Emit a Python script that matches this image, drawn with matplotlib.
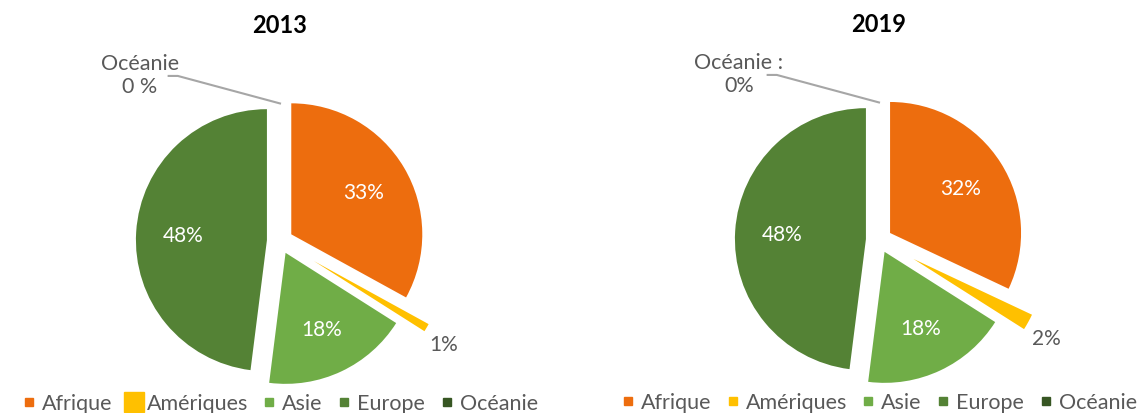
import matplotlib.pyplot as plt
import numpy as np
from matplotlib.lines import Line2D

plt.rcParams['font.family'] = ['Lato', 'DejaVu Sans']

# --- donnees ---
regions = ["Afrique", "Amériques", "Asie", "Europe", "Océanie"]
parts_2013 = [33, 1, 18, 48, 0]
parts_2019 = [32, 2, 18, 48, 0]
annees = ["2013", "2019"]
oceanie_labels = ["Océanie\n0 %", "Océanie :\n0%"]

colors = ["#ED6D0E", "#FFC000", "#70AD47", "#548235", "#375623"]
grey = "#595959"

fig = plt.figure(figsize=(11.45, 4.14), dpi=100)

W, H = 1145, 414
R = 131  # rayon en pixels
xlim = (-2.1, 2.1)
ylim = (-1.3, 1.7)


def make_ax(cx, cy):
    left = (cx + xlim[0] * R) / W
    bottom = (H - (cy - ylim[0] * R)) / H
    width = (xlim[1] - xlim[0]) * R / W
    height = (ylim[1] - ylim[0]) * R / H
    return fig.add_axes([left, bottom, width, height])


centers = [(280, 242), (879, 241)]
legend_sizes = [[6, 14, 6, 6, 6], [6, 6, 6, 6, 6]]

for i, vals in enumerate([parts_2013, parts_2019]):
    ax = make_ax(*centers[i])
    explode = [0.1, 0.3, 0.1, 0.1, 0.1]
    wedges, texts, autotexts = ax.pie(
        vals, colors=colors, startangle=90, counterclock=False,
        explode=explode, radius=1, pctdistance=0.64,
        autopct=lambda p: f"{p:.0f}%",
        textprops=dict(color="white", fontsize=15))
    ax.set_xlim(*xlim)
    ax.set_ylim(*ylim)
    ax.set_aspect("equal")
    ax.axis("off")

    # petite part (Ameriques) : etiquette a l'exterieur
    w = wedges[1]
    ang = np.deg2rad((w.theta1 + w.theta2) / 2 - 2)
    cxw, cyw = w.center
    autotexts[1].set_position((cxw + 1.18 * np.cos(ang), cyw + 1.18 * np.sin(ang)))
    autotexts[1].set_color(grey)

    # Oceanie 0 % : etiquette avec trait de rappel
    autotexts[4].set_visible(False)
    w = wedges[4]
    ang = np.deg2rad(w.theta1)
    cxw, cyw = w.center
    px, py = cxw + np.cos(ang), cyw + np.sin(ang) - 0.05
    lx, ly = px - 1.07, py + 0.21
    ax.plot([px, lx + 0.29, lx + 0.22], [py, ly, ly], color="#A6A6A6", lw=1.5)
    ax.text(lx, ly + 0.01, oceanie_labels[i], ha="center", va="center",
            fontsize=15.5, color=grey, linespacing=1.2)

    ax.text(0.5, 0.985, annees[i], transform=ax.transAxes, ha="center",
            va="center", fontsize=17, fontweight="bold", color="black")

    handles = [Line2D([], [], marker="s", ls="", color=c, markersize=s)
               for c, s in zip(colors, legend_sizes[i])]
    ax.legend(handles, regions, loc="center", bbox_to_anchor=(0.5, 0.02),
              ncol=5, frameon=False, handlelength=0.6,
              handletextpad=0.3, columnspacing=0.7, labelcolor=grey,
              borderpad=0, prop=dict(size=15.5))

fig.savefig("out.png", dpi=100)
